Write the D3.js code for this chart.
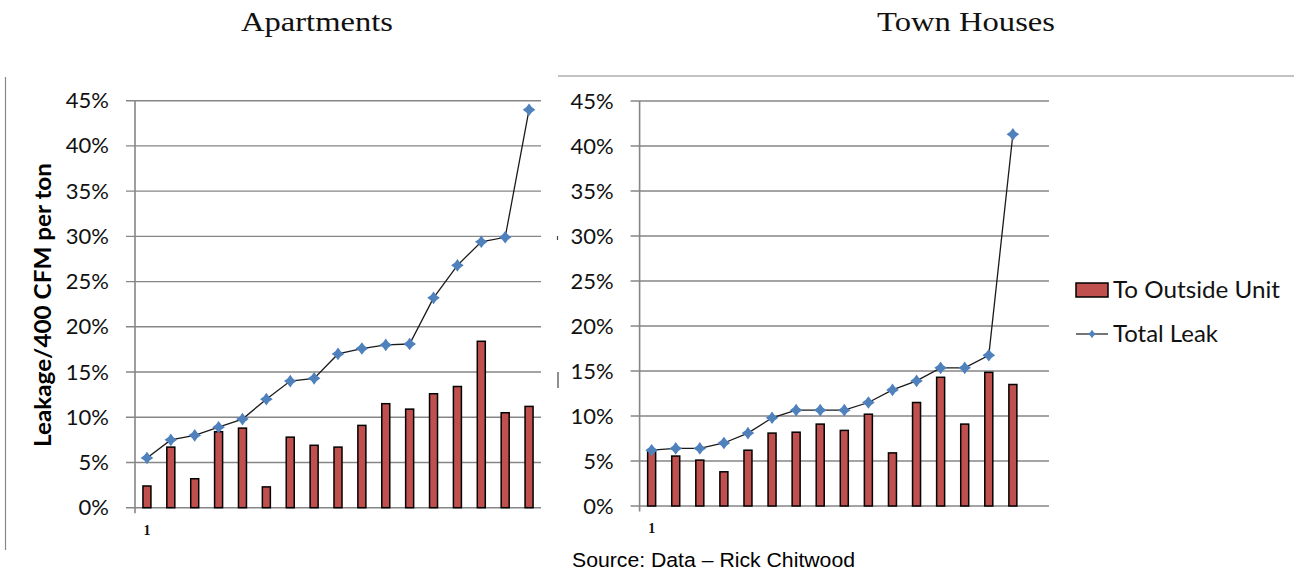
<!DOCTYPE html>
<html><head><meta charset="utf-8">
<script src="https://cdn.jsdelivr.net/npm/d3@7"></script>
<style>
html,body{margin:0;padding:0;background:#fff;}
svg{display:block;}
</style></head>
<body>
<svg id="chart" width="1294" height="576"></svg>
<script>
// ---- data ----
const categories = d3.range(1, 18);              // 17 units per chart
const categoryLabels = ["1"];                     // only first label shown
const yTicks = [0, 5, 10, 15, 20, 25, 30, 35, 40, 45];
const titles = ["Apartments", "Town Houses"];
const seriesNames = ["To Outside Unit", "Total Leak"];

const aptOutside = [2.4, 6.7, 3.2, 8.4, 8.8, 2.3, 7.8, 6.9, 6.7, 9.1, 11.5, 10.9, 12.6, 13.4, 18.4, 10.5, 11.2];
const aptTotal   = [5.5, 7.5, 8.0, 8.9, 9.8, 12.0, 14.0, 14.3, 17.0, 17.6, 18.0, 18.1, 23.2, 26.8, 29.4, 29.9, 44.0];

const townOutside = [6.15, 5.55, 5.1, 3.8, 6.2, 8.1, 8.2, 9.1, 8.4, 10.2, 5.9, 11.5, 14.3, 9.1, 14.85, 13.5, null];
const townTotal   = [6.2, 6.4, 6.4, 7.0, 8.1, 9.8, 10.65, 10.65, 10.65, 11.5, 12.9, 13.9, 15.35, 15.35, 16.75, 41.3, null];

const svg = d3.select("#chart");
const RED = "#C0504D", BLUE = "#4F81BD", GRID = "#868686";

// 4-point sparkle marker
const sparkle = {
  draw(ctx, size) {
    const r = Math.sqrt(size) / 2, w = r * 0.42;
    ctx.moveTo(0, -r); ctx.lineTo(w, -w); ctx.lineTo(r, 0); ctx.lineTo(w, w);
    ctx.lineTo(0, r); ctx.lineTo(-w, w); ctx.lineTo(-r, 0); ctx.lineTo(-w, -w); ctx.closePath();
  }
};

function panel(cfg) {
  const x = d3.scaleBand().domain(categories).range([cfg.x0, cfg.x1]);
  const y = d3.scaleLinear().domain([0, 45]).range([cfg.y0, cfg.y45]);
  const g = svg.append("g");

  // gridlines (extend left as tick marks)
  g.selectAll("line.grid").data(yTicks).join("line")
    .attr("x1", cfg.x0 - 9).attr("x2", cfg.x1)
    .attr("y1", d => y(d)).attr("y2", d => y(d))
    .attr("stroke", GRID).attr("stroke-width", 1.4);

  // y axis line
  g.append("line").attr("x1", cfg.x0).attr("x2", cfg.x0)
    .attr("y1", y(45)).attr("y2", y(0) + 5.5)
    .attr("stroke", GRID).attr("stroke-width", 1.6);

  // tick labels
  g.selectAll("text.tick").data(yTicks).join("text")
    .attr("x", cfg.x0 - 26).attr("y", d => y(d) + 7.5)
    .attr("text-anchor", "end")
    .attr("font-family", "Lato, 'Open Sans', sans-serif")
    .attr("font-size", 22).attr("fill", "#111")
    .text(d => d + "%");

  // category label
  g.selectAll("text.cat").data(categoryLabels).join("text")
    .attr("x", d => x(+d) + x.bandwidth() / 2).attr("y", cfg.y0 + 27)
    .attr("text-anchor", "middle")
    .attr("font-family", "'Liberation Serif', serif").attr("font-weight", "bold")
    .attr("font-size", 14).attr("fill", "#111")
    .text(d => d);

  // bars
  const bw = 8;
  g.selectAll("rect.bar").data(cfg.outside.map((v, i) => ({c: categories[i], v})).filter(d => d.v != null))
    .join("rect")
    .attr("x", d => x(d.c) + x.bandwidth() / 2 - bw / 2)
    .attr("width", bw)
    .attr("y", d => y(d.v)).attr("height", d => y(0) - y(d.v))
    .attr("fill", RED).attr("stroke", "#000").attr("stroke-width", 1.5);

  // line
  const pts = cfg.total.map((v, i) => ({c: categories[i], v})).filter(d => d.v != null);
  const line = d3.line().x(d => x(d.c) + x.bandwidth() / 2).y(d => y(d.v));
  g.append("path").datum(pts).attr("d", line)
    .attr("fill", "none").attr("stroke", "#1a1a1a").attr("stroke-width", 1.3);
  g.selectAll("path.mk").data(pts).join("path")
    .attr("transform", d => `translate(${x(d.c) + x.bandwidth() / 2},${y(d.v)})`)
    .attr("d", d3.symbol().type(sparkle).size(160))
    .attr("fill", BLUE);

  // title
  svg.append("text").attr("x", cfg.titleX).attr("y", 31)
    .attr("text-anchor", "middle")
    .attr("font-family", "'Liberation Serif', serif").attr("font-size", 28).attr("fill", "#111")
    .attr("textLength", cfg.titleW).attr("lengthAdjust", "spacingAndGlyphs")
    .text(cfg.title);
}

panel({x0: 135, x1: 541, y0: 507.7, y45: 100.7, outside: aptOutside, total: aptTotal,
       title: titles[0], titleX: 317, titleW: 152});
panel({x0: 639.6, x1: 1049, y0: 506, y45: 101, outside: townOutside, total: townTotal,
       title: titles[1], titleX: 966, titleW: 178});

// frame-like lines
svg.append("line").attr("x1", 5.5).attr("x2", 5.5).attr("y1", 77).attr("y2", 550)
  .attr("stroke", "#888").attr("stroke-width", 1.2);
svg.append("line").attr("x1", 558).attr("x2", 1294).attr("y1", 76).attr("y2", 76)
  .attr("stroke", "#888").attr("stroke-width", 1.2);
svg.append("line").attr("x1", 557.5).attr("x2", 557.5).attr("y1", 236).attr("y2", 240)
  .attr("stroke", "#444").attr("stroke-width", 1.2);
svg.append("line").attr("x1", 558).attr("x2", 558).attr("y1", 372).attr("y2", 388)
  .attr("stroke", "#444").attr("stroke-width", 1.2);

// y-axis title
svg.append("text")
  .attr("transform", "translate(51,305) rotate(-90)")
  .attr("text-anchor", "middle")
  .attr("font-family", "Lato, 'Open Sans', sans-serif").attr("font-weight", "bold")
  .attr("font-size", 23).attr("fill", "#000")
  .attr("textLength", 284).attr("lengthAdjust", "spacingAndGlyphs")
  .text("Leakage/400 CFM per ton");

// legend
const lg = svg.append("g");
lg.append("rect").attr("x", 1076).attr("y", 283).attr("width", 32).attr("height", 14)
  .attr("fill", RED).attr("stroke", "#000").attr("stroke-width", 1.5);
lg.append("line").attr("x1", 1076).attr("x2", 1108).attr("y1", 334).attr("y2", 334)
  .attr("stroke", "#1a1a1a").attr("stroke-width", 1.2);
lg.append("path").attr("transform", "translate(1092,334)")
  .attr("d", d3.symbol().type(sparkle).size(70)).attr("fill", BLUE);
lg.selectAll("text").data(seriesNames).join("text")
  .attr("x", 1113).attr("y", (d, i) => 298 + i * 44)
  .attr("font-family", "Lato, 'Open Sans', sans-serif").attr("font-size", 22.5).attr("fill", "#111")
  .attr("textLength", (d, i) => [167, 105][i]).attr("lengthAdjust", "spacingAndGlyphs")
  .text(d => d);

// source
svg.append("text").attr("x", 572).attr("y", 567)
  .attr("font-family", "'Liberation Sans', Arial, sans-serif").attr("font-size", 20.5).attr("fill", "#000")
  .attr("textLength", 283).attr("lengthAdjust", "spacingAndGlyphs")
  .text("Source: Data \u2013 Rick Chitwood");
</script>
</body></html>
